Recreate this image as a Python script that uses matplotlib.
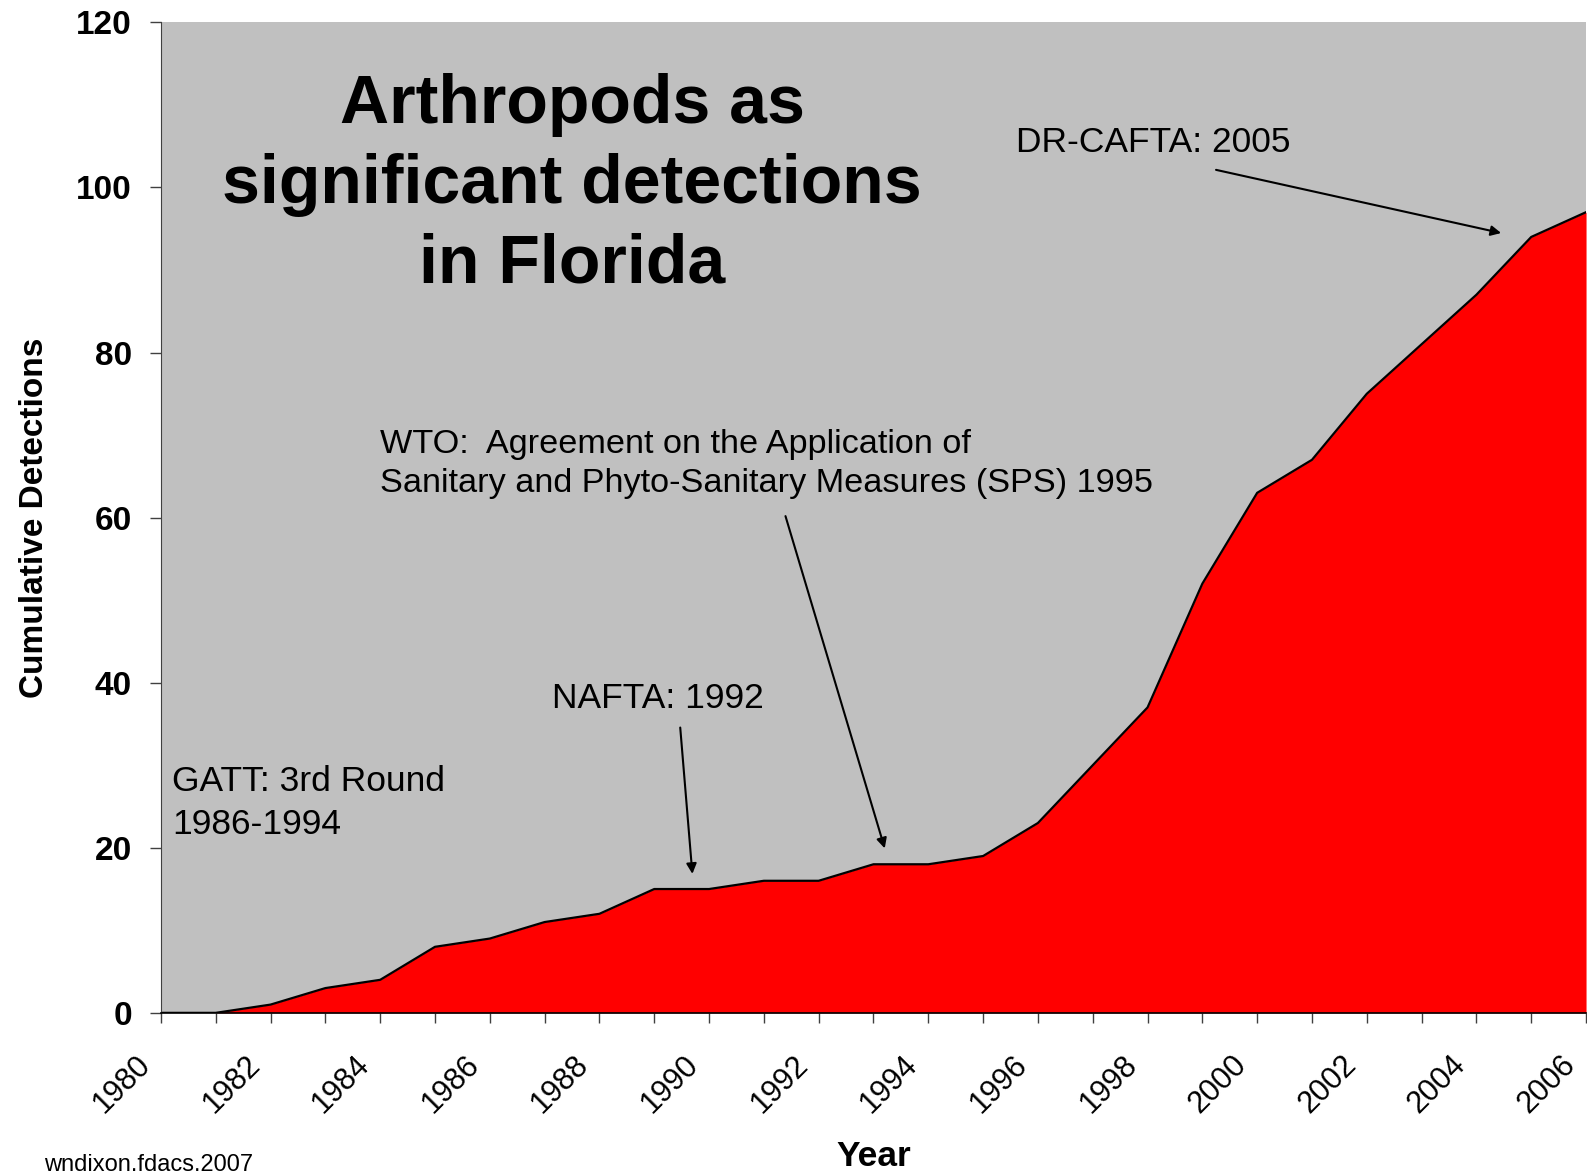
import matplotlib
matplotlib.use('Agg')
import matplotlib.pyplot as plt
from matplotlib.transforms import ScaledTranslation

plt.rcParams['font.family'] = ['Liberation Sans', 'DejaVu Sans']

# cumulative arthropod detections per year
years = [1980, 1981, 1982, 1983, 1984, 1985, 1986, 1987, 1988, 1989,
         1990, 1991, 1992, 1993, 1994, 1995, 1996, 1997, 1998, 1999,
         2000, 2001, 2002, 2003, 2004, 2005, 2006]
detections = [0, 0, 1, 3, 4, 8, 9, 11, 12, 15,
              15, 16, 16, 18, 18, 19, 23, 30, 37, 52,
              63, 67, 75, 81, 87, 94, 97]
tick_years = years[::2]
y_ticks = [0, 20, 40, 60, 80, 100, 120]

fig = plt.figure(figsize=(15.87, 11.75), dpi=100)
ax = fig.add_axes([0.1014, 0.138, 0.898, 0.843])
ax.set_facecolor('#C0C0C0')

ax.fill_between(years, detections, 0, color='#FF0000', linewidth=0)
ax.plot(years, detections, color='black', linewidth=1.6)

ax.set_xlim(years[0], years[-1])
ax.set_ylim(0, 120)
ax.set_xticks(years, minor=True)
ax.set_xticks(tick_years)
ax.set_xticklabels([str(y) for y in tick_years], rotation=45, ha='right', va='center',
                   rotation_mode='anchor', fontsize=22)
ax.set_yticks(y_ticks)
ax.set_yticklabels([str(v) for v in y_ticks], fontsize=24, fontweight='bold')
ax.tick_params(axis='x', which='both', length=7, width=1, direction='out', color='#404040', pad=27)
ax.tick_params(axis='y', length=8, width=1, direction='out', color='#404040', pad=13)

# shift labels left so their ends sit just before the tick (Excel style)
# (done after tick_params, which resets the label transforms)
shift = ScaledTranslation(-0.15, 0, fig.dpi_scale_trans)
for lab in ax.get_xticklabels():
    lab.set_transform(lab.get_transform() + shift)

for side in ['top', 'right']:
    ax.spines[side].set_visible(False)
ax.spines['left'].set_color('#404040')
ax.spines['bottom'].set_color('black')
ax.spines['bottom'].set_linewidth(1.2)

ax.set_xlabel('Year', fontsize=25.5, fontweight='bold', va='top')
ax.xaxis.set_label_coords(0.5, -0.128)
ax.set_ylabel('Cumulative Detections', fontsize=24, fontweight='bold')
ax.yaxis.set_label_coords(-0.078, 0.5)

# title inside the plot area
ax.text(1987.5, 100.3, 'Arthropods as\nsignificant detections\nin Florida', ha='center', va='center',
        fontsize=49, fontweight='bold', linespacing=1.31)

arrow = dict(arrowstyle='-|>', color='black', lw=1.5, mutation_scale=15)

ax.text(1995.6, 105.5, 'DR-CAFTA: 2005', fontsize=25.5, va='center')
ax.annotate('', xy=(2004.5, 94.4), xytext=(1999.2, 102.2), arrowprops=arrow)

ax.text(1984.0, 66.5, 'WTO:  Agreement on the Application of\nSanitary and Phyto-Sanitary Measures (SPS) 1995',
        fontsize=24.7, va='center', linespacing=1.36)
ax.annotate('', xy=(1993.22, 19.6), xytext=(1991.38, 60.5), arrowprops=arrow)

ax.text(1987.13, 38.1, 'NAFTA: 1992', fontsize=25.5, va='center')
ax.annotate('', xy=(1989.7, 16.5), xytext=(1989.47, 34.9), arrowprops=arrow)

ax.text(1980.2, 25.4, 'GATT: 3rd Round\n1986-1994', fontsize=25.5, va='center', linespacing=1.37)

fig.text(0.028, 0.003, 'wndixon.fdacs.2007', fontsize=17, va='baseline')

fig.savefig('out.png', dpi=100)
